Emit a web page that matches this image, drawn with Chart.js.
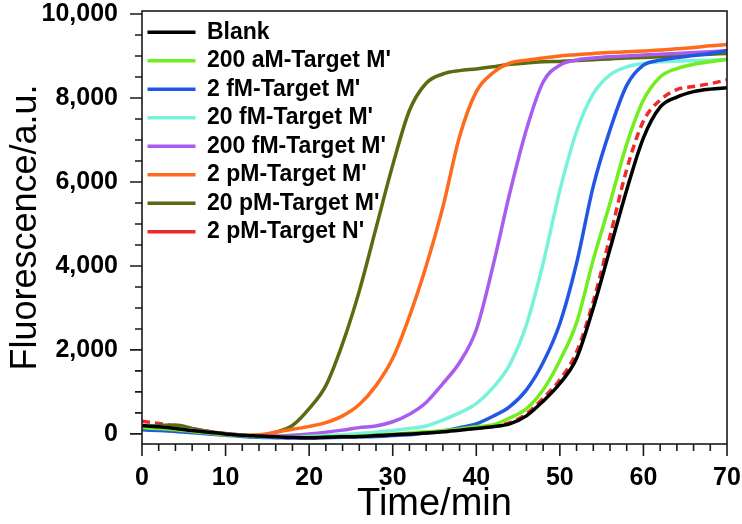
<!DOCTYPE html>
<html>
<head>
<meta charset="utf-8">
<script src="https://cdn.jsdelivr.net/npm/chart.js@4"></script>
<style>
  html, body { margin: 0; padding: 0; background: #fff; }
  #kutu { width: 742px; height: 524px; }
</style>
</head>
<body>
<div id="kutu"><canvas id="grafik"></canvas></div>
<script>
// time points (min)
const ZAMAN = [0, 2, 4, 6, 8, 10, 12, 14, 16, 18, 20, 22, 24, 26, 28, 30, 32, 34,
  36, 38, 40, 42, 44, 46, 48, 50, 52, 54, 56, 58, 60, 62, 64, 66, 68, 70];

const ETIKETLER = ["Blank", "200 aM-Target M'", "2 fM-Target M'", "20 fM-Target M'",
  "200 fM-Target M'", "2 pM-Target M'", "20 pM-Target M'", "2 pM-Target N'"];

const blank = [200, 170, 130, 80, 40, 0, -30, -50, -70, -80, -90, -80, -70, -60, -40, -20, 0, 20,
  50, 90, 130, 170, 240, 430, 780, 1200, 1800, 3000, 4400, 5810, 7050, 7780, 8020, 8150, 8210, 8240];
const aM200 = [150, 130, 100, 60, 20, -20, -40, -60, -70, -80, -80, -70, -60, -50, -30, -10, 20, 50,
  80, 120, 170, 220, 380, 600, 1050, 1750, 2650, 4150, 5500, 6900, 7950, 8500, 8700, 8800, 8860, 8920];
const fM2 = [100, 80, 60, 30, 0, -30, -60, -80, -90, -100, -100, -90, -80, -70, -60, -40, -20, 20,
  70, 150, 240, 420, 650, 1050, 1700, 2630, 4064, 5900, 7240, 8300, 8780, 8900, 8960, 9010, 9060, 9130];
const fM20 = [200, 170, 130, 80, 30, -10, -40, -60, -70, -70, -60, -40, -20, 10, 40, 80, 130, 190,
  330, 500, 720, 1100, 1650, 2600, 4064, 5800, 7200, 8100, 8550, 8740, 8820, 8860, 8880, 8890, 8900, 8910];
const fM200 = [170, 150, 120, 80, 40, 0, -30, -50, -50, -30, 0, 40, 90, 150, 190, 290, 470, 750,
  1200, 1700, 2480, 4000, 5730, 7250, 8380, 8780, 8900, 8950, 8980, 9000, 9020, 9040, 9060, 9080, 9100, 9120];
const pM2 = [150, 140, 120, 90, 40, 0, -30, -20, 40, 110, 180, 270, 430, 700, 1150, 1800, 2800, 4000,
  5400, 7080, 8150, 8600, 8830, 8900, 8950, 9000, 9030, 9060, 9080, 9100, 9120, 9140, 9170, 9200, 9240, 9270];
const pM20 = [180, 200, 210, 130, 60, 10, -30, -40, 40, 200, 600, 1150, 2150, 3400, 4900, 6400, 7700, 8350,
  8570, 8650, 8690, 8740, 8800, 8830, 8860, 8870, 8890, 8910, 8930, 8950, 8960, 8980, 9000, 9020, 9040, 9060];
const pM2N = [300, 250, 180, 120, 60, 0, -40, -60, -80, -90, -90, -80, -70, -60, -40, -20, 0, 30,
  60, 100, 140, 190, 270, 480, 850, 1290, 1950, 3150, 4700, 6300, 7450, 7950, 8200, 8270, 8340, 8430];

const SERILER = [blank, aM200, fM2, fM20, fM200, pM2, pM20, pM2N];
const RENKLER = ["#000000", "#72ee1e", "#2456e6", "#78f2da", "#a95cf0", "#ff6a1c", "#5b6b10", "#ee2a2a"];

// labelled ticks and the small in-between ticks
const Y_BUYUK = [0, 2000, 4000, 6000, 8000, 10000];
const X_KUCUK = [0, 2, 4, 6, 8, 10, 12, 14, 16, 18, 20, 22, 24, 26, 28, 30, 32, 34,
  36, 38, 40, 42, 44, 46, 48, 50, 52, 54, 56, 58, 60, 62, 64, 66, 68, 70];
const Y_KUCUK = [0, 500, 1000, 1500, 2000, 2500, 3000, 3500, 4000, 4500, 5000,
  5500, 6000, 6500, 7000, 7500, 8000, 8500, 9000, 9500, 10000];

const YAZI = "'Liberation Sans', Arial, sans-serif";
const binlik = v => String(v).replace(/\B(?=(\d{3})+(?!\d))/g, ",");

// frame around the plot + major/minor tick marks
const cerceve = {
  id: "cerceve",
  afterDraw(chart) {
    const { ctx, chartArea: a, scales } = chart;
    ctx.save();
    ctx.strokeStyle = "#1a1a1a";
    ctx.lineWidth = 1.6;
    ctx.strokeRect(a.left, a.top, a.right - a.left, a.bottom - a.top);
    ctx.beginPath();
    for (const v of X_KUCUK) {
      const x = scales.x.getPixelForValue(v);
      ctx.moveTo(x, a.bottom);
      ctx.lineTo(x, a.bottom + (v % 10 === 0 ? 12 : 7));
    }
    for (const v of Y_KUCUK) {
      const y = scales.y.getPixelForValue(v);
      ctx.moveTo(a.left, y);
      ctx.lineTo(a.left - (v % 2000 === 0 ? 12 : 7), y);
    }
    ctx.stroke();
    ctx.restore();
  }
};

new Chart(document.getElementById("grafik"), {
  type: "line",
  data: {
    datasets: SERILER.map((s, i) => ({
      label: ETIKETLER[i],
      data: ZAMAN.map((t, j) => ({ x: t, y: s[j] })),
      borderColor: RENKLER[i],
      backgroundColor: RENKLER[i],
      borderWidth: 3.5,
      borderDash: i === 7 ? [8, 5] : [],
      pointRadius: 0,
      cubicInterpolationMode: "monotone",
      fill: false,
    })),
  },
  options: {
    responsive: true,
    maintainAspectRatio: false,
    animation: false,
    layout: { padding: { top: 11, right: 15, left: 0, bottom: 0 } },
    plugins: {
      tooltip: { enabled: false },
      legend: {
        position: "chartArea",
        align: "start",
        // empty title only pushes the rows down a bit
        title: { display: true, text: " ", font: { size: 1 }, padding: { top: 14, bottom: 0 } },
        labels: {
          usePointStyle: true,
          pointStyle: "line",
          pointStyleWidth: 48,
          boxWidth: 48,
          padding: 5.5,
          color: "#000",
          font: { family: YAZI, size: 23, weight: "bold" },
        },
      },
    },
    scales: {
      x: {
        type: "linear",
        min: 0,
        max: 70,
        ticks: { stepSize: 10, padding: 7, color: "#000",
          font: { family: YAZI, size: 25, weight: "bold" } },
        grid: { display: false, drawTicks: true, tickLength: 12 },
        border: { display: false },
        title: { display: true, text: "Time/min", color: "#000", padding: { top: 0, bottom: 0 },
          font: { family: YAZI, size: 38, lineHeight: 1.0 } },
        afterFit(scale) {
          scale.height = 80;
          scale.paddingLeft = 0;
          scale.paddingRight = 0;
        },
      },
      y: {
        type: "linear",
        min: -240,
        max: 10070,
        afterBuildTicks(scale) { scale.ticks = Y_BUYUK.map(v => ({ value: v })); },
        ticks: { padding: 12, color: "#000",
          callback: v => binlik(v),
          font: { family: YAZI, size: 25, weight: "bold" } },
        grid: { display: false, drawTicks: true, tickLength: 12 },
        border: { display: false },
        title: { display: true, text: "Fluorescence/a.u.", color: "#000", padding: { top: 8, bottom: 0 },
          font: { family: YAZI, size: 36, lineHeight: 1.0 } },
        afterFit(scale) {
          scale.width = 142;
          scale.paddingTop = 0;
          scale.paddingBottom = 0;
        },
      },
    },
  },
  plugins: [cerceve],
});
</script>
</body>
</html>
